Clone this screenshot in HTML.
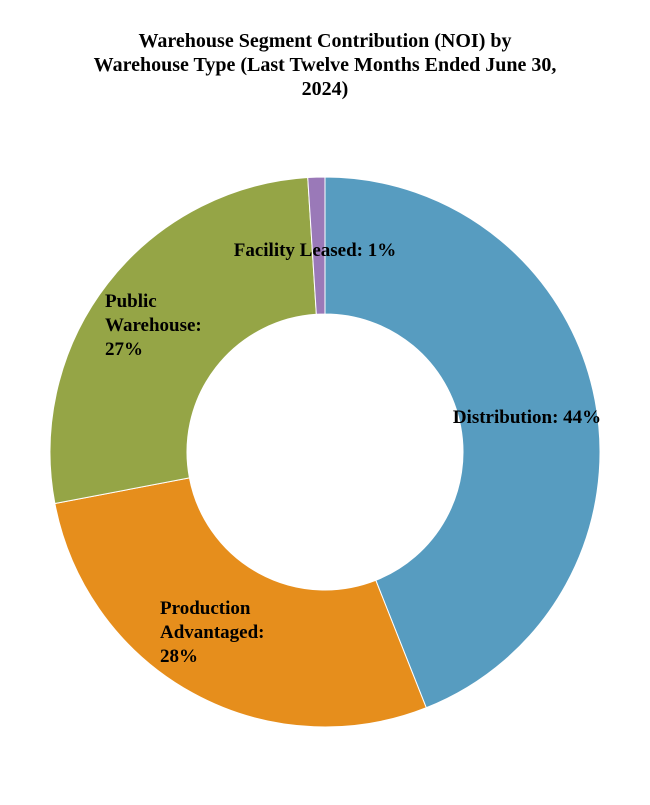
<!DOCTYPE html>
<html><head><meta charset="utf-8"><style>
body{margin:0;background:#fff;}
svg text{font-family:"Liberation Serif",serif;font-weight:bold;fill:#000;}
</style></head><body>
<svg width="650" height="800">
<g id="title">
<text x="325" y="47" font-size="20" text-anchor="middle">Warehouse Segment Contribution (NOI) by</text>
<text x="325" y="71" font-size="20" text-anchor="middle">Warehouse Type (Last Twelve Months Ended June 30,</text>
<text x="325" y="95" font-size="20" text-anchor="middle">2024)</text>
</g>
<g id="slices"></g>
<g id="labels"></g>
</svg>
<script>
const categories=["Distribution","Production Advantaged","Public Warehouse","Facility Leased"];
const values=[44,28,27,1];
const colors=["#579cc0","#e68e1c","#95a546","#9a79b8"];
const labelLines=[["Distribution: 44%"],["Production","Advantaged:","28%"],["Public","Warehouse:","27%"],["Facility Leased: 1%"]];
const labelPos=[[527,423,"middle"],[160,614,"start"],[105,307,"start"],[315,256,"middle"]];
const cx=325,cy=452,R=275,r=138;
const total=values.reduce((a,b)=>a+b,0);
const ns="http://www.w3.org/2000/svg";
const g=document.getElementById('slices');
function pt(a,rad){return [cx+rad*Math.sin(a),cy-rad*Math.cos(a)];}
let acc=0;
values.forEach((v,i)=>{
 const a0=acc/total*2*Math.PI;acc+=v;const a1=acc/total*2*Math.PI;
 const large=(a1-a0)>Math.PI?1:0;
 const p0=pt(a0,R),p1=pt(a1,R),q1=pt(a1,r),q0=pt(a0,r);
 const p=document.createElementNS(ns,'path');
 p.setAttribute('d',`M${p0}A${R},${R} 0 ${large} 1 ${p1}L${q1}A${r},${r} 0 ${large} 0 ${q0}Z`);
 p.setAttribute('fill',colors[i]);p.setAttribute('stroke','#fff');p.setAttribute('stroke-width','1');
 
 
 g.appendChild(p);
});
const lg=document.getElementById('labels');
labelLines.forEach((lines,i)=>{
 const t=document.createElementNS(ns,'text');
 t.setAttribute('font-size','19');t.setAttribute('text-anchor',labelPos[i][2]);
 
 
 lines.forEach((l,j)=>{const s=document.createElementNS(ns,'tspan');s.setAttribute('x',labelPos[i][0]);s.setAttribute('y',labelPos[i][1]+j*24);s.textContent=l;t.appendChild(s);});
 lg.appendChild(t);
});
</script>
</body></html>
